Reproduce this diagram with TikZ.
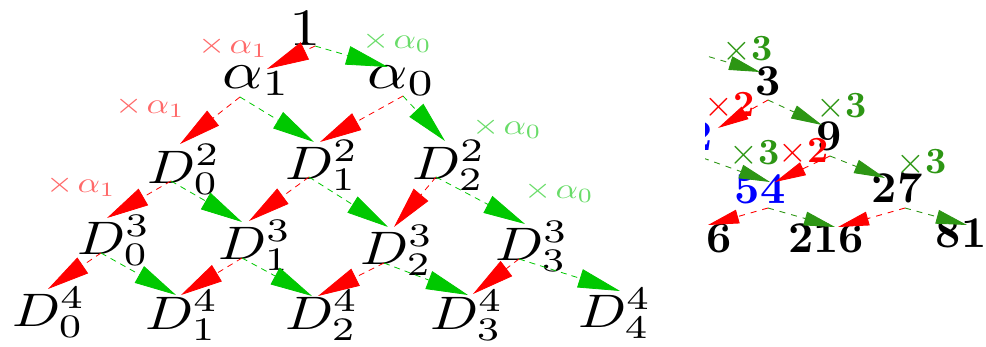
\documentclass[tikz,border=0pt]{standalone}
\usepackage{amsmath,amssymb}
\usetikzlibrary{arrows.meta}
\definecolor{lgreen}{RGB}{0,200,0}
\definecolor{rgreen}{RGB}{45,150,20}
\definecolor{lblred}{RGB}{255,105,105}
\definecolor{lblgreen}{RGB}{105,220,105}
\newcommand\sD[1]{\scalebox{5.64}[4.7]{#1}}
\newcommand\sA[1]{\scalebox{6.3}[5.25]{#1}}
\newcommand\sL[1]{\scalebox{3.5}[2.9]{#1}}
\newcommand\sN[1]{\scalebox{4.4}{#1}}
\newcommand\sM[1]{\scalebox{3.7}{#1}}
\begin{document}
\begin{tikzpicture}[x=1pt,y=-1pt,
  onenode/.style={inner sep=0pt, anchor=base},
  anode/.style={inner sep=0pt, anchor=base west},
  dnode/.style={inner sep=0pt, anchor=base west},
  lbl/.style={inner sep=0pt},
  ra/.style={draw=red, dash pattern=on 6pt off 5pt, line width=0.8pt, -{Triangle[length=42pt,width=19pt]}},
  ga/.style={draw=lgreen, dash pattern=on 6pt off 5pt, line width=0.8pt, -{Triangle[length=42pt,width=19pt]}},
  num/.style={inner sep=0pt, anchor=base},
  rlbl/.style={inner sep=0pt},
  rr/.style={draw=red, dash pattern=on 6pt off 6pt, line width=0.9pt, -{Triangle[length=31pt,width=14pt]}},
  rg/.style={draw=rgreen, dash pattern=on 6pt off 6pt, line width=0.9pt, -{Triangle[length=31pt,width=14pt]}}
]
\useasboundingbox (0,0) rectangle (986,346);
\clip (0,0) rectangle (986,346);

% ---------- left lattice ----------
\node[onenode] (n1) at (305,45) {\sA{1}};
\node[anode] (a1) at (222,88) {\sA{$\alpha_1$}};
\node[anode] (a0) at (367,88) {\sA{$\alpha_0$}};
\node[dnode] (d02) at (147,183) {\sD{$D_0^2$}};
\node[dnode] (d12) at (285,179) {\sD{$D_1^2$}};
\node[dnode] (d22) at (412,179) {\sD{$D_2^2$}};
\node[dnode] (d03) at (77,254) {\sD{$D_0^3$}};
\node[dnode] (d13) at (218,259) {\sD{$D_1^3$}};
\node[dnode] (d23) at (360,264) {\sD{$D_2^3$}};
\node[dnode] (d33) at (495,260) {\sD{$D_3^3$}};
\node[dnode] (d04) at (12,326) {\sD{$D_0^4$}};
\node[dnode] (d14) at (145,329) {\sD{$D_1^4$}};
\node[dnode] (d24) at (285,329) {\sD{$D_2^4$}};
\node[dnode] (d34) at (430,329) {\sD{$D_3^4$}};
\node[dnode] (d44) at (578,327) {\sD{$D_4^4$}};

\draw[ra] ([shift={(10,1)}]n1.base) -- ([shift={(45,-19)}]a1.base west);
\draw[ga] ([shift={(10,1)}]n1.base) -- ([shift={(21,-21)}]a0.base west);
\draw[ra] ([shift={(18,9)}]a1.base west) -- ([shift={(33,-39)}]d02.base west);
\draw[ga] ([shift={(18,9)}]a1.base west) -- ([shift={(29,-37)}]d12.base west);
\draw[ra] ([shift={(36,8)}]a0.base west) -- ([shift={(35,-37)}]d12.base west);
\draw[ga] ([shift={(36,8)}]a0.base west) -- ([shift={(33,-38)}]d22.base west);

\draw[ra] ([shift={(24,-2)}]d02.base west) -- ([shift={(30,-36)}]d03.base west);
\draw[ga] ([shift={(24,-2)}]d02.base west) -- ([shift={(24,-37)}]d13.base west);
\draw[ra] ([shift={(24,-2)}]d12.base west) -- ([shift={(31,-38)}]d13.base west);
\draw[ga] ([shift={(24,-2)}]d12.base west) -- ([shift={(28,-37)}]d23.base west);
\draw[ra] ([shift={(24,-2)}]d22.base west) -- ([shift={(34,-37)}]d23.base west);
\draw[ga] ([shift={(24,-2)}]d22.base west) -- ([shift={(30,-36)}]d33.base west);

\draw[ra] ([shift={(24,-1)}]d03.base west) -- ([shift={(36,-37)}]d04.base west);
\draw[ga] ([shift={(24,-1)}]d03.base west) -- ([shift={(31,-34)}]d14.base west);
\draw[ra] ([shift={(24,-1)}]d13.base west) -- ([shift={(36,-34)}]d14.base west);
\draw[ga] ([shift={(24,-1)}]d13.base west) -- ([shift={(27,-33)}]d24.base west);
\draw[ra] ([shift={(24,-1)}]d23.base west) -- ([shift={(33,-33)}]d24.base west);
\draw[ga] ([shift={(24,-1)}]d23.base west) -- ([shift={(38,-34)}]d34.base west);
\draw[ra] ([shift={(24,-1)}]d33.base west) -- ([shift={(43,-35)}]d34.base west);
\draw[ga] ([shift={(24,-1)}]d33.base west) -- ([shift={(42,-36)}]d44.base west);

\node[lbl, text=lblred] (l1) at (233,47) {\sL{$\times\mkern2mu\alpha_1$}};
\node[lbl, text=lblgreen] (l2) at (397,42) {\sL{$\times\mkern2mu\alpha_0$}};
\node[lbl, text=lblred] (l3) at (150,107) {\sL{$\times\mkern2mu\alpha_1$}};
\node[lbl, text=lblgreen] (l4) at (507,128) {\sL{$\times\mkern2mu\alpha_0$}};
\node[lbl, text=lblred] (l5) at (81,186) {\sL{$\times\mkern2mu\alpha_1$}};
\node[lbl, text=lblgreen] (l6) at (559,192) {\sL{$\times\mkern2mu\alpha_0$}};

% ---------- right (cropped) number tree ----------
\begin{scope}
\clip (705,0) rectangle (986,346);
\coordinate (rin) at (640,36);
\node[num] (r3) at (768,95) {\sN{\textbf{3}}};
\node[num, text=blue] (rb) at (700,150) {\sN{\textbf{2}}};
\node[num] (r9) at (829,150) {\sN{\textbf{9}}};
\node[num, text=blue] (r54) at (760,203) {\sN{\textbf{54}}};
\node[num] (r27) at (897,202) {\sN{\textbf{27}}};
\node[num] (r6) at (719,252) {\sN{\textbf{6}}};
\node[num] (r216) at (826,252) {\sN{\textbf{216}}};
\node[num] (r81) at (961,247) {\sN{\textbf{81}}};

\draw[rg] (rin) -- ([shift={(-8,-23)}]r3.base);
\draw[rr] ([shift={(0,5)}]r3.base) -- ([shift={(18,-22)}]rb.base);
\draw[rg] ([shift={(0,5)}]r3.base) -- ([shift={(-7,-25)}]r9.base);
\draw[rg] ([shift={(3,8)}]rb.base) -- ([shift={(10,-21)}]r54.base);
\draw[rr] ([shift={(1,6)}]r9.base) -- ([shift={(15,-21)}]r54.base);
\draw[rg] ([shift={(1,6)}]r9.base) -- ([shift={(-12,-24)}]r27.base);
\draw[rr] ([shift={(8,5)}]r54.base) -- ([shift={(-11,-27)}]r6.base);
\draw[rg] ([shift={(8,5)}]r54.base) -- ([shift={(9,-25)}]r216.base);
\draw[rr] ([shift={(8,6)}]r27.base) -- ([shift={(12,-25)}]r216.base);
\draw[rg] ([shift={(8,6)}]r27.base) -- ([shift={(6,-22)}]r81.base);

\node[rlbl, text=rgreen] (m1) at (748,50) {\sM{$\times$\textbf{3}}};
\node[rlbl, text=rgreen] (m3) at (842,107) {\sM{$\times$\textbf{3}}};
\node[rlbl, text=rgreen] (m4) at (755,154) {\sM{$\times$\textbf{3}}};
\node[rlbl, text=rgreen] (m6) at (922,163) {\sM{$\times$\textbf{3}}};
\node[rlbl, text=red] (m2) at (730,106) {\sM{$\times$\textbf{2}}};
\node[rlbl, text=red] (m5) at (804,152) {\sM{$\times$\textbf{2}}};
\end{scope}
\end{tikzpicture}
\end{document}
